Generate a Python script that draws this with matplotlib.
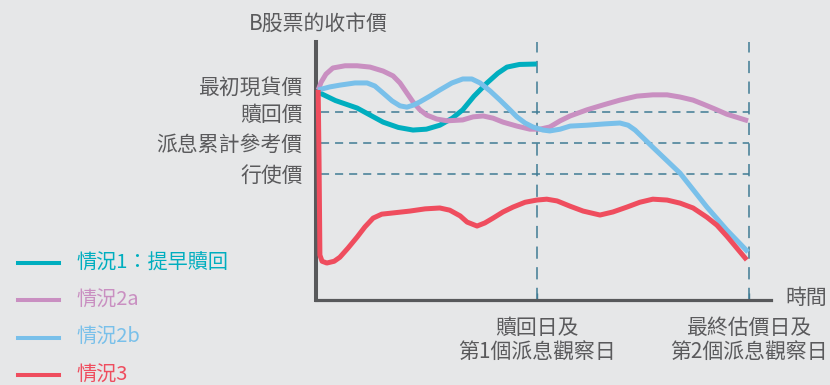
import matplotlib.pyplot as plt
from matplotlib.lines import Line2D

plt.rcParams['font.family'] = ['Noto Sans CJK TC', 'DejaVu Sans']

W, H = 830, 385
BG = '#e6e7e8'
GREY = '#58595b'
TXT = '#5a5a5c'
DASH = '#3f7b94'

# price levels shown on the y axis
level_names = ['最初現貨價', '贖回價', '派息累計參考價', '行使價']
level_values = [101.1, 95.0, 88.0, 81.0]

# observation dates on the time axis
obs_names = ['贖回日及\n第1個派息觀察日', '最終估價日及\n第2個派息觀察日']
obs_times = [51, 100]

names = ['情況1：提早贖回', '情況2a', '情況2b', '情況3']
colors = ['#00aebf', '#c98fc1', '#79c0ea', '#ef4d5e']

# scenario 1: early redemption
t1 = [0.5, 4.5, 9.5, 15.5, 19.0, 22.4, 25.5, 28.6, 31.5, 33.9, 36.5, 39.5, 42.0, 44.1, 47.0, 51.0]
p1 = [99.5, 97.6, 95.9, 92.7, 91.5, 90.9, 91.1, 92.0, 93.6, 95.5, 98.6, 101.6, 103.8, 105.2, 105.8, 105.9]

# scenario 2a
t2a = [0.5, 1.2, 2.3, 3.9, 6.7, 9.5, 12.5, 15.5, 17.8, 19.4, 21.0, 22.4, 24.0, 25.6, 27.9, 30.3,
       33.9, 36.3, 38.6, 40.9, 43.2, 46.4, 49.4, 51.7, 54.0, 56.4, 58.7, 62.6, 66.3, 70.2, 74.1,
       77.8, 81.1, 84.1, 87.1, 89.4, 92.1, 94.9, 99.8]
p2a = [100.0, 101.8, 103.6, 105.0, 105.5, 105.5, 105.2, 104.3, 103.2, 101.6, 99.3, 97.3, 95.5, 94.3,
       93.4, 93.0, 93.2, 93.9, 94.1, 93.6, 92.7, 91.8, 91.1, 91.1, 91.6, 93.0, 94.1, 95.5, 96.6, 97.7,
       98.6, 98.9, 98.9, 98.4, 97.7, 96.8, 95.7, 94.5, 93.0]

# scenario 2b
t2b = [0.5, 3.2, 5.5, 9.0, 11.8, 13.6, 15.5, 17.6, 19.4, 21.0, 22.6, 24.0, 26.3, 28.6, 31.4, 33.9,
       36.0, 37.9, 40.2, 42.5, 44.8, 46.4, 48.3, 50.1, 52.4, 54.0, 56.4, 58.7, 62.6, 66.7, 70.2,
       72.1, 73.7, 77.8, 84.1, 90.3, 94.9, 99.8]
p2b = [100.0, 100.7, 101.1, 101.6, 101.6, 100.9, 99.3, 97.5, 96.4, 96.1, 96.6, 97.3, 98.6, 100.0,
       101.6, 102.5, 102.5, 101.6, 99.8, 97.7, 95.5, 93.9, 92.5, 91.6, 90.9, 90.7, 91.1, 91.8, 92.0,
       92.3, 92.5, 92.0, 90.9, 87.0, 81.1, 73.4, 68.2, 63.2]

# scenario 3
t3 = [0.5, 0.7, 0.9, 1.4, 2.5, 4.2, 5.5, 7.4, 9.5, 11.3, 13.2, 15.2, 17.1, 21.7, 25.2, 28.6, 30.9,
      33.3, 34.9, 37.2, 39.0, 40.9, 43.2, 45.5, 48.3, 51.0, 53.3, 55.7, 58.7, 61.7, 65.6, 68.6,
      71.8, 74.8, 77.8, 81.1, 84.1, 87.1, 90.3, 92.6, 94.9, 97.2, 99.5]
p3 = [100.0, 84.1, 62.5, 61.1, 60.7, 61.1, 62.0, 64.1, 66.6, 68.9, 70.9, 71.8, 72.0, 72.5, 73.0,
      73.2, 72.7, 71.4, 70.0, 69.1, 69.8, 70.9, 72.3, 73.4, 74.5, 75.0, 75.2, 74.8, 73.6, 72.5,
      71.6, 72.3, 73.4, 74.5, 75.2, 75.0, 74.3, 73.2, 71.1, 69.3, 66.8, 64.1, 61.4]

series = [(t1, p1), (t2a, p2a), (t2b, p2b), (t3, p3)]

fig = plt.figure(figsize=(W / 100, H / 100), dpi=100, facecolor=BG)
ax = fig.add_axes([316 / W, (H - 300) / H, (771 - 316) / W, (300 - 42) / H])
ax.patch.set_visible(False)
ax.set_xlim(0, 105.1)
ax.set_ylim(52.3, 110.9)

for s in ['top', 'right']:
    ax.spines[s].set_visible(False)
ax.spines['left'].set_color(GREY)
ax.spines['left'].set_linewidth(2.9)
ax.spines['bottom'].set_color(GREY)
ax.spines['bottom'].set_linewidth(2.3)

# reference levels and observation dates
ax.hlines(level_values[1:], 1.2, obs_times[1], colors=DASH, lw=1.1,
          linestyles=(0, (5.3, 3.9)), zorder=1)
ax.vlines(obs_times, 52.3, 110.9, colors=DASH, lw=1.1,
          linestyles=(0, (8, 5.5)), zorder=1)

order = [2, 1, 0, 3]
for i in order:
    t, p = series[i]
    ax.plot(t, p, color=colors[i], lw=3.6, solid_joinstyle='round',
            solid_capstyle='butt', clip_on=False, zorder=3 + i)

ax.set_yticks(level_values, level_names)
ax.tick_params(axis='y', length=0, pad=9.5, labelsize=15, labelcolor=TXT)
ax.set_xticks(obs_times, obs_names)
ax.tick_params(axis='x', direction='in', length=5, width=1, color=DASH,
               pad=12.5, labelsize=15, labelcolor=TXT)
for lab in ax.get_xticklabels():
    lab.set_linespacing(1.1)

fig.text(318 / W, 1 - 24 / H, 'B股票的收市價', ha='center', va='center',
         fontsize=15, color=TXT)
fig.text(785 / W, 1 - 298 / H, '時間', ha='left', va='center',
         fontsize=15, color=TXT)

# legend
for i, (name, c) in enumerate(zip(names, colors)):
    yy = 1 - (263 + i * 37.3) / H
    fig.add_artist(Line2D([18 / W, 59 / W], [yy, yy], transform=fig.transFigure,
                          color=c, lw=2.9))
    fig.text(76 / W, yy, name, ha='left', va='center', fontsize=14.5, color=c)

fig.savefig('out.png', dpi=100, facecolor=BG)
